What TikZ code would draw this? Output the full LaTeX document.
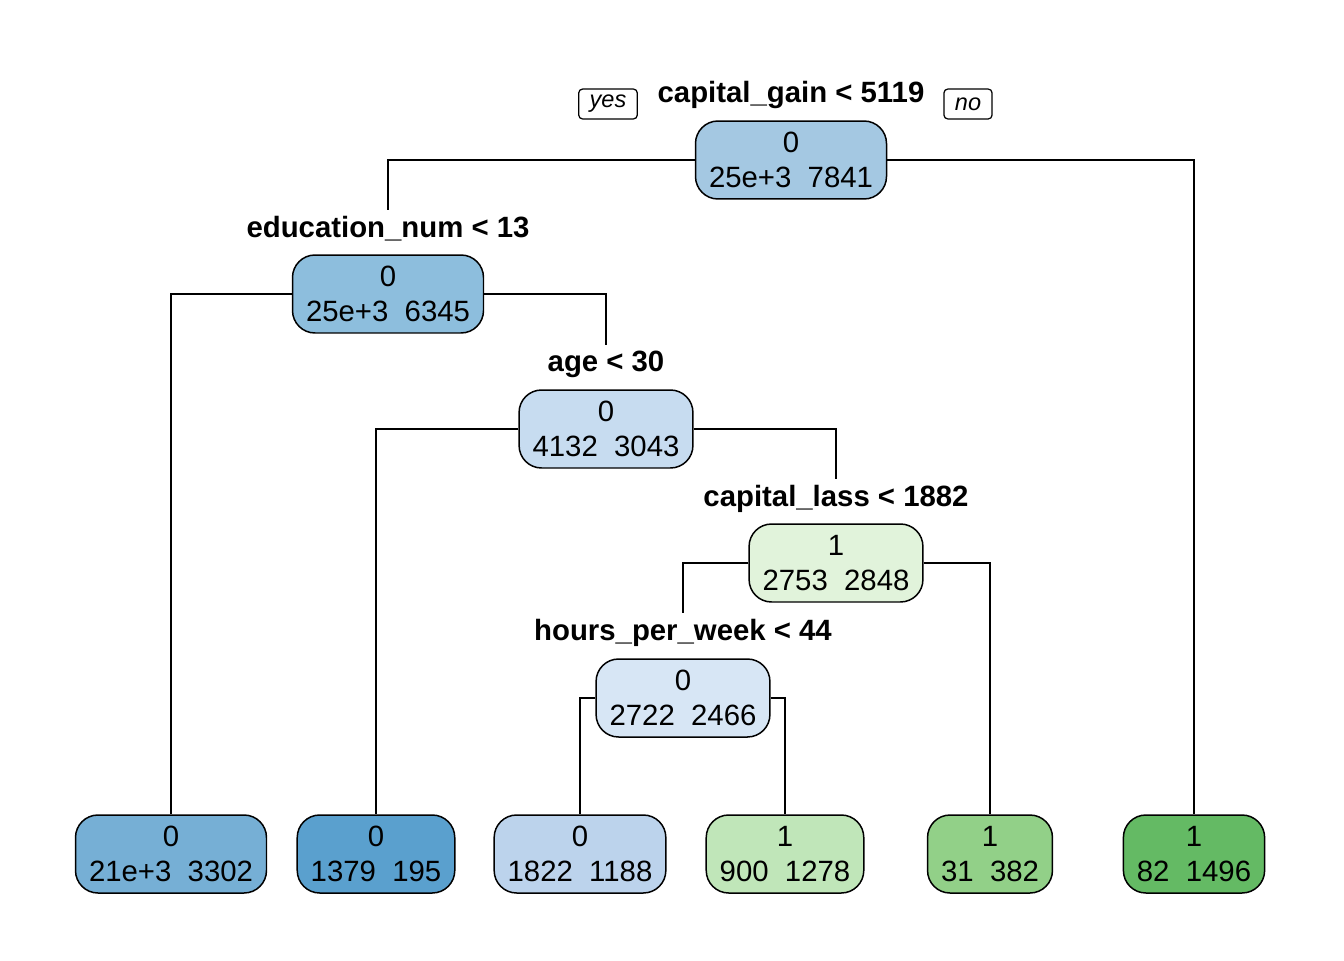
\documentclass[tikz,border=0pt]{standalone}
\usepackage{fontspec}
\setmainfont{Liberation Sans}
\usepackage{tikz}
\usetikzlibrary{arrows}
\definecolor{ca}{RGB}{164,200,226}
\definecolor{cb}{RGB}{141,190,221}
\definecolor{cc}{RGB}{199,220,240}
\definecolor{cd}{RGB}{225,243,219}
\definecolor{ce}{RGB}{215,230,245}
\definecolor{cb1}{RGB}{118,175,213}
\definecolor{cc1}{RGB}{90,160,206}
\definecolor{ce1}{RGB}{188,211,236}
\definecolor{ce2}{RGB}{192,230,185}
\definecolor{cd2}{RGB}{146,208,136}
\definecolor{ca2}{RGB}{100,186,100}
\tikzstyle{box} = [rectangle, draw, rounded corners=0.45cm, line width=0.85pt, align=center, inner xsep=0.27cm, minimum height=1.56cm, font=\fontsize{16.7}{20}\selectfont]
\tikzstyle{cond} = [anchor=base, font=\fontsize{16.7}{20}\selectfont\bfseries]
\tikzstyle{yesno} = [rectangle, draw, rounded corners=0.08cm, line width=0.7pt, inner xsep=0.22cm, minimum height=0.6cm, font=\fontsize{13.4}{16}\selectfont\itshape]
\tikzstyle{edge} = [line width=0.6pt]
\newcommand{\gap}{\hspace{0.556em}}

\begin{document}
\begin{tikzpicture}[x=0.02cm, y=-0.02cm]
\useasboundingbox (0,0) rectangle (1344,960);

\node [cond] (ax) at (791,102) {capital\_gain < 5119};
\node [yesno] (yes) at (608,104) {yes};
\node [yesno] (no) at (968,104) {no};
\node [box, fill=ca] (a) at (791,160) {0\\25e+3\gap 7841};

\node [cond] (bx) at (388,237.5) {education\_num < 13};
\node [box, fill=cb] (b) at (388,294) {0\\25e+3\gap 6345};

\node [cond] (cx) at (606,371.5) {age < 30};
\node [box, fill=cc] (c) at (606,429) {0\\4132\gap 3043};

\node [cond] (dx) at (836,506.5) {capital\_lass < 1882};
\node [box, fill=cd] (d) at (836,563) {1\\2753\gap 2848};

\node [cond] (ex) at (683,640.5) {hours\_per\_week < 44};
\node [box, fill=ce] (e) at (683,698) {0\\2722\gap 2466};

\node [box, fill=cb1] (b1) at (171,854) {0\\21e+3\gap 3302};
\node [box, fill=cc1] (c1) at (376,854) {0\\1379\gap 195};
\node [box, fill=ce1] (e1) at (580,854) {0\\1822\gap 1188};
\node [box, fill=ce2] (e2) at (785,854) {1\\900\gap 1278};
\node [box, fill=cd2] (d2) at (990,854) {1\\31\gap 382};
\node [box, fill=ca2] (a2) at (1194,854) {1\\82\gap 1496};

\draw [edge] (a.west) -| (bx);
\draw [edge] (a.east) -| (a2);

\draw [edge] (b.west) -| (b1);
\draw [edge] (b.east) -| (cx);

\draw [edge] (c.west) -| (c1);
\draw [edge] (c.east) -| (dx);

\draw [edge] (d.west) -| (ex);
\draw [edge] (d.east) -| (d2);

\draw [edge] (e.west) -| (e1);
\draw [edge] (e.east) -| (e2);
\end{tikzpicture}
\end{document}
